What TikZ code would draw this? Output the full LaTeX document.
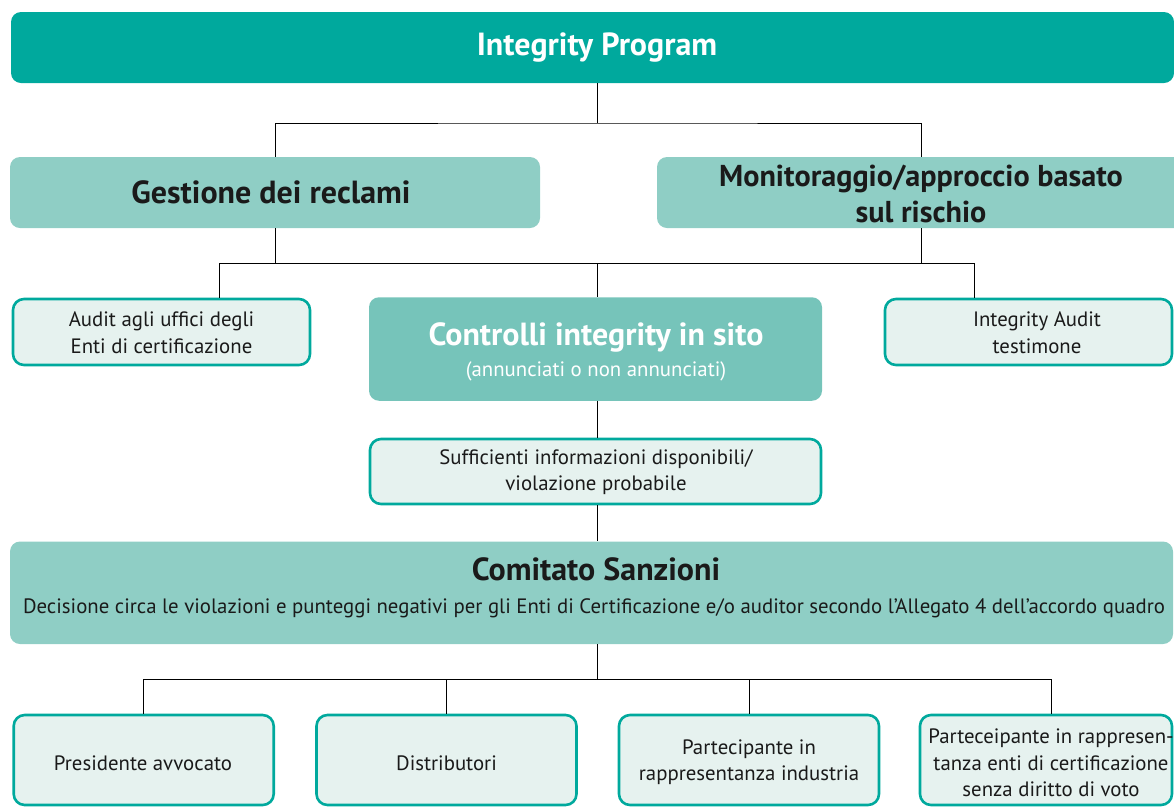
\documentclass[tikz,border=0pt]{standalone}
\usepackage{fontspec}
\setmainfont{PT Sans}
\definecolor{tealA}{HTML}{00A99D}
\definecolor{tealB}{HTML}{8FCEC5}
\definecolor{tealC}{HTML}{76C4BA}
\definecolor{lightbg}{HTML}{E6F2EF}
\definecolor{ink}{HTML}{1A1A1A}
\begin{document}
\begin{tikzpicture}[x=1pt,y=-1pt,
  box/.style={rectangle, rounded corners=10pt, inner sep=0pt, draw=none},
  lbox/.style={rectangle, rounded corners=11pt, inner sep=0pt, fill=lightbg, draw=tealA, line width=2.6pt},
  conn/.style={draw=black, line width=0.9pt},
  big/.style={font=\fontsize{32}{36}\selectfont\bfseries, text=ink, align=center, inner sep=0pt},
  small/.style={font=\fontsize{20.8}{26.6}\selectfont, text=ink, align=center, inner sep=0pt}]
\useasboundingbox (0,0) rectangle (1174,807);
\clip (0,0) rectangle (1174,807);
% boxes
\node[box, fill=tealA, minimum width=1163pt, minimum height=71pt] (top) at (592.5,47.5) {};
\node[box, fill=tealB, minimum width=530pt, minimum height=71pt] (gest) at (275,192.5) {};
\node[box, fill=tealB, minimum width=528pt, minimum height=71pt] (mon) at (921,192.5) {};
\node[lbox, minimum width=297pt, minimum height=66pt] (audit) at (161.5,332) {};
\node[box, fill=tealC, minimum width=453pt, minimum height=103.5pt] (ctrl) at (595.5,349) {};
\node[lbox, minimum width=287pt, minimum height=66pt] (ia) at (1028.5,332) {};
\node[lbox, minimum width=451pt, minimum height=65pt] (suff) at (595.5,471.5) {};
\node[box, fill=tealB, minimum width=1163pt, minimum height=102.5pt] (com) at (591.5,592.75) {};
\node[lbox, minimum width=260pt, minimum height=90pt] (b1) at (143.7,760) {};
\node[lbox, minimum width=260pt, minimum height=90pt] (b2) at (446.5,760) {};
\node[lbox, minimum width=260pt, minimum height=90pt] (b3) at (749,760) {};
\node[lbox, minimum width=252pt, minimum height=90pt] (b4) at (1046,760) {};
% texts
\node[big, text=white] (toptext) at (597,48) {Integrity Program};
\node[big] (gtext) at (271,192) {Gestione dei reclami};
\node[big, font=\fontsize{30.2}{36}\selectfont\bfseries] (montext) at (921,194) {Monitoraggio/approccio basato\\sul rischio};
\node[small] (audittext) at (161.5,333) {Audit agli uffici degli\\Enti di certificazione};
\node[big, text=white] (ctrltitle) at (596,337) {Controlli integrity in sito};
\node[small, text=white] (ctrlsub) at (596,371) {(annunciati o non annunciati)};
\node[small] (iatext) at (1037,333) {Integrity Audit\\testimone};
\node[small] (sufftext) at (596,472) {Sufficienti informazioni disponibili/\\violazione probabile};
\node[big] (comtitle) at (596,569) {Comitato Sanzioni};
\node[small] (comsub) at (594,608) {Decisione circa le violazioni e punteggi negativi per gli Enti di Certificazione e/o auditor secondo l’Allegato 4 dell’accordo quadro};
\node[small] (b1text) at (143,763) {Presidente avvocato};
\node[small] (b2text) at (446.5,763) {Distributori};
\node[small] (b3text) at (749,762) {Partecipante in\\rappresentanza industria};
\node[small] (b4text) at (1051,763) {Parteceipante in rappresen-\\tanza enti di certificazione\\senza diritto di voto};
% connectors
\coordinate (jA) at (597,123);
\draw[conn] (top.south -| toptext) -- (jA);
\draw[conn] (gest.north) |- (jA) -| (mon.north -| montext);
\coordinate (jB) at (597,263);
\coordinate (aL) at (219,263);
\coordinate (aR) at (974,263);
\draw[conn] (gest.south) -- (gest.south |- jB);
\draw[conn] (mon.south -| montext) -- (montext |- jB);
\draw[conn] (aL) -- (aR);
\draw[conn] (aL) -- (aL |- audit.north);
\draw[conn] (jB) -- (ctrl.north -| jB);
\draw[conn] (aR) -- (aR |- ia.north);
\draw[conn] (ctrl.south -| jB) -- (suff.north -| jB);
\draw[conn] (suff.south -| jB) -- (com.north -| jB);
\coordinate (jC) at (597,679);
\draw[conn] (com.south -| jC) -- (jC);
\draw[conn] (b1.north) |- (jC) -| (b4.north -| b4text);
\draw[conn] (b2.north) -- (b2.north |- jC);
\draw[conn] (b3.north) -- (b3.north |- jC);
\end{tikzpicture}
\end{document}
